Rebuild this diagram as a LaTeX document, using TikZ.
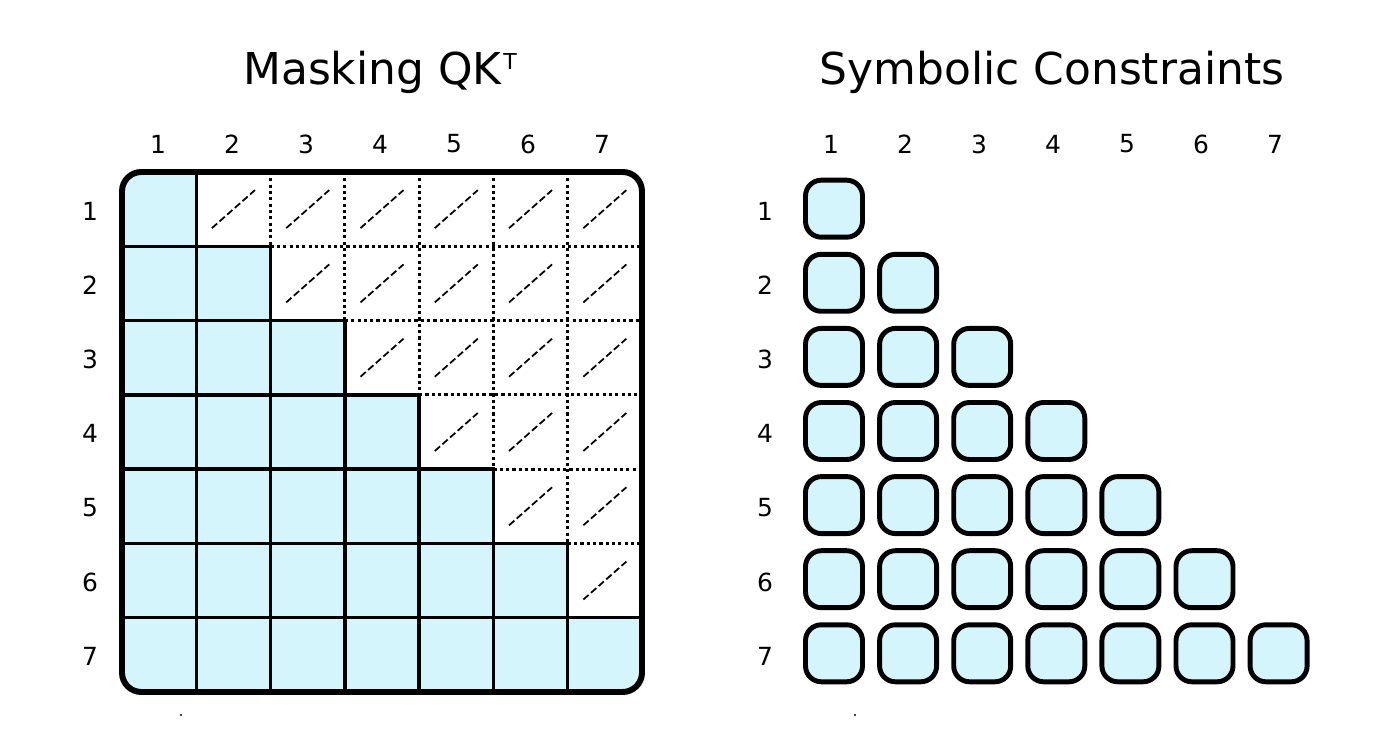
\documentclass[tikz,border=0pt]{standalone}
\usepackage{fontspec}
\setmainfont{DejaVu Sans}
\definecolor{cellcyan}{RGB}{213,245,253}
\tikzset{
  cellbox/.style={rectangle, minimum size=1.4857cm, inner sep=0pt, outer sep=0pt},
  keepcell/.style={cellbox, draw, fill=cellcyan, line width=1.9pt},
  gridline/.style={line width=1.8pt, dash pattern=on 1.8pt off 1.8pt},
  maskline/.style={line width=1pt, dash pattern=on 4pt off 1.8pt},
  symbox/.style={rectangle, rounded corners=9pt, minimum size=1.14cm, inner sep=0pt, draw, fill=cellcyan, line width=2.8pt},
  idx/.style={font=\fontsize{14.2}{17}\selectfont, inner sep=0pt},
  ttl/.style={font=\fontsize{25}{30}\selectfont, inner sep=0pt, anchor=base}
}
\begin{document}
\begin{tikzpicture}[x=0.02cm,y=-0.02cm]
\useasboundingbox (0,0) rectangle (1400,742);
% titles
\node[ttl] (tl) at (380,85) {Masking QK\hspace{1pt}\raisebox{9pt}{\fontsize{12.5}{12.5}\selectfont T}};
\node[ttl] (tr) at (1052,85) {Symbolic Constraints};
% index labels
\foreach \j in {1,...,7}{
  \node[idx] (lc-\j) at ({158+74*(\j-1)},144) {\j};
  \node[idx] (rc-\j) at ({831+74*(\j-1)},144) {\j};
}
\foreach \i in {1,...,7}{
  \node[idx] (lr-\i) at (90,{211+74.2*(\i-1)}) {\i};
  \node[idx] (rr-\i) at (765,{211+74.2*(\i-1)}) {\i};
}
% masked matrix
\coordinate (gridnw) at (122,172);
\coordinate (gridse) at (642,692);
\begin{scope}
\clip[rounded corners=11pt] (gridnw) rectangle (gridse);
\foreach \i in {1,...,7}{
  \foreach \j in {1,...,7}{
    \ifnum\j>\i
      \node[cellbox] (c-\i-\j) at ({122+74.2857*(\j-0.5)},{172+74.2857*(\i-0.5)}) {};
      \draw[maskline] ([shift={(-21.5,19)}]c-\i-\j.center) -- ([shift={(21.5,-19)}]c-\i-\j.center);
    \fi
  }
}
\foreach \i in {1,...,5}{
  \pgfmathtruncatemacro\k{\i+2}
  \draw[gridline] (c-\i-\k.south west) -- (c-\i-7.south east);
}
\foreach \j in {2,...,6}{
  \pgfmathtruncatemacro\k{\j-1}
  \draw[gridline] (c-1-\j.north east) -- (c-\k-\j.south east);
}
\foreach \i in {1,...,7}{
  \foreach \j in {1,...,\i}{
    \node[keepcell] (c-\i-\j) at ({122+74.2857*(\j-0.5)},{172+74.2857*(\i-0.5)}) {};
  }
}
\end{scope}
\draw[line width=3.4pt, rounded corners=11pt] (gridnw) rectangle (gridse);
% symbolic constraints
\foreach \i in {1,...,7}{
  \foreach \j in {1,...,\i}{
    \node[symbox] (s-\i-\j) at ({834+74.1*(\j-1)},{208.7+74.1*(\i-1)}) {};
  }
}
\fill (181,715) circle (0.7pt);
\fill (855,715) circle (0.7pt);
\end{tikzpicture}
\end{document}
